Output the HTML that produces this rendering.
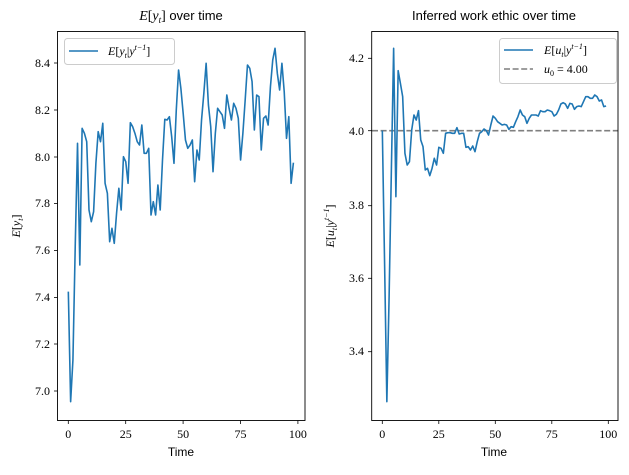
<!DOCTYPE html>
<html><head><meta charset="utf-8"><style>
body{margin:0;background:#fff;width:629px;height:470px;overflow:hidden}
svg text{font-family:"Liberation Serif",serif;fill:#000}
.s{font-family:"Liberation Sans","DejaVu Sans",sans-serif}
</style></head><body>
<svg id="c" width="629" height="470" xmlns="http://www.w3.org/2000/svg">
<rect width="629" height="470" fill="#fff"/>
<!-- left axes -->
<g id="L"></g>
<rect x="57.5" y="31.5" width="247.5" height="389" fill="none" stroke="#000" stroke-width="0.9"/>
<g font-size="12" text-anchor="end">
<text x="50" y="67">8.4</text><text x="50" y="114">8.2</text><text x="50" y="161">8.0</text>
<text x="50" y="207">7.8</text><text x="50" y="254">7.6</text><text x="50" y="301">7.4</text>
<text x="50" y="348">7.2</text><text x="50" y="395">7.0</text>
</g>
<g stroke="#000" stroke-width="0.8">
<line x1="54" x2="57.5" y1="63" y2="63"/><line x1="54" x2="57.5" y1="110" y2="110"/><line x1="54" x2="57.5" y1="157" y2="157"/>
<line x1="54" x2="57.5" y1="203.5" y2="203.5"/><line x1="54" x2="57.5" y1="250.5" y2="250.5"/><line x1="54" x2="57.5" y1="297.5" y2="297.5"/>
<line x1="54" x2="57.5" y1="344" y2="344"/><line x1="54" x2="57.5" y1="391" y2="391"/>
<line x1="68.3" x2="68.3" y1="420.5" y2="424"/><line x1="125.7" x2="125.7" y1="420.5" y2="424"/><line x1="183.1" x2="183.1" y1="420.5" y2="424"/>
<line x1="240.5" x2="240.5" y1="420.5" y2="424"/><line x1="297.9" x2="297.9" y1="420.5" y2="424"/>
</g>
<g font-size="12" text-anchor="middle">
<text x="68.3" y="438">0</text><text x="125.7" y="438">25</text><text x="183.1" y="438">50</text><text x="240.5" y="438">75</text><text x="297.9" y="438">100</text>
</g>
<text class="s" x="181" y="456" font-size="12" text-anchor="middle">Time</text>
<text x="181" y="20" font-size="14" text-anchor="middle"><tspan font-style="italic">E</tspan>[<tspan font-style="italic">y</tspan><tspan font-size="9" dy="3" font-style="italic">t</tspan><tspan dy="-3">]</tspan> <tspan class="s" font-size="13">over time</tspan></text>
<text transform="translate(20,226) rotate(-90)" font-size="12" text-anchor="middle"><tspan font-style="italic">E</tspan>[<tspan font-style="italic">y</tspan><tspan font-size="8" dy="3" font-style="italic">t</tspan><tspan dy="-3">]</tspan></text>
<rect x="64.5" y="38.5" width="110" height="26" rx="3" fill="#fff" fill-opacity="0.8" stroke="#ccc"/>
<line x1="69" x2="98" y1="51" y2="51" stroke="#1f77b4" stroke-width="1.6"/>
<text x="108" y="55" font-size="12"><tspan font-style="italic">E</tspan>[<tspan font-style="italic">y</tspan><tspan font-size="8" dy="3" font-style="italic">t</tspan><tspan dy="-3">|</tspan><tspan font-style="italic">y</tspan><tspan font-size="8" dy="-5" font-style="italic">t−1</tspan><tspan dy="5">]</tspan></text>

<!-- right axes -->
<line x1="372" x2="618" y1="130.7" y2="130.7" stroke="#7f7f7f" stroke-width="1.6" stroke-dasharray="6,2.6"/>
<g id="R"></g>
<rect x="371.7" y="31.5" width="246.3" height="389" fill="none" stroke="#000" stroke-width="0.9"/>
<g font-size="12" text-anchor="end">
<text x="364" y="62">4.2</text><text x="364" y="135">4.0</text><text x="364" y="209">3.8</text>
<text x="364" y="282">3.6</text><text x="364" y="355">3.4</text>
</g>
<g stroke="#000" stroke-width="0.8">
<line x1="368" x2="371.7" y1="58.3" y2="58.3"/><line x1="368" x2="371.7" y1="130.7" y2="130.7"/><line x1="368" x2="371.7" y1="205.7" y2="205.7"/>
<line x1="368" x2="371.7" y1="278.3" y2="278.3"/><line x1="368" x2="371.7" y1="351.7" y2="351.7"/>
<line x1="382.3" x2="382.3" y1="420.5" y2="424"/><line x1="438.8" x2="438.8" y1="420.5" y2="424"/><line x1="495.3" x2="495.3" y1="420.5" y2="424"/>
<line x1="551.8" x2="551.8" y1="420.5" y2="424"/><line x1="608.3" x2="608.3" y1="420.5" y2="424"/>
</g>
<g font-size="12" text-anchor="middle">
<text x="382.3" y="438">0</text><text x="438.8" y="438">25</text><text x="495.3" y="438">50</text><text x="551.8" y="438">75</text><text x="608.3" y="438">100</text>
</g>
<text class="s" x="494" y="456" font-size="12" text-anchor="middle">Time</text>
<text class="s" x="494" y="20" font-size="13" text-anchor="middle">Inferred work ethic over time</text>
<text transform="translate(334,226) rotate(-90)" font-size="12" text-anchor="middle"><tspan font-style="italic">E</tspan>[<tspan font-style="italic">u</tspan><tspan font-size="8" dy="3" font-style="italic">t</tspan><tspan dy="-3">|</tspan><tspan font-style="italic">y</tspan><tspan font-size="8" dy="-5" font-style="italic">t−1</tspan><tspan dy="5">]</tspan></text>
<rect x="499.5" y="38.5" width="117" height="45" rx="3" fill="#fff" fill-opacity="0.8" stroke="#ccc"/>
<line x1="504" x2="533" y1="50" y2="50" stroke="#1f77b4" stroke-width="1.6"/>
<line x1="504" x2="533" y1="69" y2="69" stroke="#7f7f7f" stroke-width="1.6" stroke-dasharray="6,2.6"/>
<text x="544" y="54" font-size="12"><tspan font-style="italic">E</tspan>[<tspan font-style="italic">u</tspan><tspan font-size="8" dy="3" font-style="italic">t</tspan><tspan dy="-3">|</tspan><tspan font-style="italic">y</tspan><tspan font-size="8" dy="-5" font-style="italic">t−1</tspan><tspan dy="5">]</tspan></text>
<text x="544" y="73" font-size="12"><tspan font-style="italic">u</tspan><tspan font-size="8" dy="3">0</tspan><tspan dy="-3"> = 4.00</tspan></text>
</svg>
<script>
var L=[785,1115,990,650,340,705,295,310,335,540,575,545,400,305,335,280,460,490,635,595,640,550,475,540,380,395,460,278,290,310,335,345,285,370,370,355,555,515,555,465,540,390,268,270,260,320,400,240,120,175,250,330,355,345,330,455,360,390,270,190,100,225,290,425,310,235,245,255,295,195,235,270,220,235,265,390,310,210,105,115,155,300,195,200,360,265,258,285,170,90,55,130,180,100,185,325,260,460,398];
var R=[302,700,1115,800,420,55,500,122,160,200,370,405,395,300,255,270,242,330,350,420,415,437,415,385,405,352,355,370,310,308,308,310,310,293,312,310,310,352,350,360,348,365,335,310,305,297,302,315,285,258,265,275,280,285,283,285,298,290,292,275,260,240,255,260,280,265,255,255,255,258,242,245,245,240,242,245,258,253,240,222,218,222,235,220,222,238,230,228,230,215,200,200,205,205,195,200,213,210,230,228];
function pl(a,ox,oy,x0,dx){return a.map(function(v,i){return (ox+(x0+dx*i)/3).toFixed(2)+","+(oy+v/3).toFixed(2)}).join(" ");}
var ns="http://www.w3.org/2000/svg";
function add(id,pts){var p=document.createElementNS(ns,"polyline");p.setAttribute("points",pts);p.setAttribute("fill","none");p.setAttribute("stroke","#1f77b4");p.setAttribute("stroke-width","1.6");p.setAttribute("stroke-linejoin","round");document.getElementById(id).appendChild(p);}
add("L",pl(L,55,30,40,6.89));
add("R",pl(R,360,30,67,6.78));
</script>
</body></html>
